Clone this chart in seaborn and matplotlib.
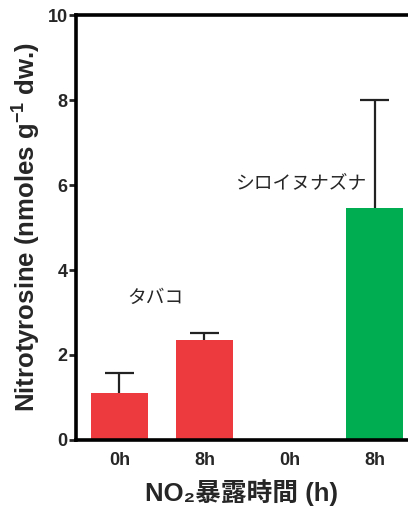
import matplotlib
matplotlib.use("Agg")
import matplotlib.pyplot as plt
import seaborn as sns
import pandas as pd
import numpy as np

# Nitrotyrosine content after NO2 exposure
groups = ["タバコ 0h", "タバコ 8h", "シロイヌナズナ 0h", "シロイヌナズナ 8h"]
time_labels = ["0h", "8h", "0h", "8h"]
means = [1.10, 2.35, 0.0, 5.47]
sem_upper = [0.48, 0.17, 0.0, 2.52]
bar_colors = ["#ED3A3E", "#ED3A3E", "#333333", "#00AD50"]

df = pd.DataFrame({"group": groups, "value": means})

sns.set_style("ticks")
plt.rcParams["font.family"] = ["Liberation Sans", "Noto Sans CJK JP", "DejaVu Sans"]
plt.rcParams["mathtext.fontset"] = "custom"
plt.rcParams["mathtext.rm"] = "Liberation Sans:bold"
plt.rcParams["mathtext.bf"] = "Liberation Sans:bold"
plt.rcParams["mathtext.default"] = "bf"

fig = plt.figure(figsize=(4.08, 5.11), dpi=100)
ax = fig.add_axes([0.186, 0.139, 0.814, 0.8315])

sns.barplot(data=df, x="group", y="value", hue="group", palette=bar_colors,
            order=groups, hue_order=groups, legend=False, errorbar=None,
            width=0.67, saturation=1, ax=ax, linewidth=0)

# zero-height bar drawn as a line on the baseline
for p, c in zip(ax.patches, bar_colors):
    p.set_edgecolor(c)
    p.set_linewidth(1.2 if p.get_height() == 0 else 0)

# upper-only error bars
xpos = np.arange(len(groups))
for x, m, e in zip(xpos, means, sem_upper):
    if e > 0:
        ax.vlines(x, m, m + e, color="#222222", linewidth=1.6, zorder=3)
        ax.hlines(m + e, x - 0.17, x + 0.17, color="#222222", linewidth=1.6, zorder=3)

ax.set_xlim(-0.51, 3.39)
ax.set_ylim(0, 10)
ax.set_yticks([0, 2, 4, 6, 8, 10])
ax.set_xticks(xpos)
ax.set_xticklabels(time_labels, fontsize=13, fontweight="bold")
ax.tick_params(axis="y", labelsize=13, width=2, length=5, pad=1)
ax.tick_params(axis="x", length=0, pad=9)
for lab in ax.get_yticklabels():
    lab.set_fontweight("bold")

for side in ["left", "bottom", "top"]:
    ax.spines[side].set_linewidth(2.6)
    ax.spines[side].set_color("black")
ax.spines["right"].set_visible(False)

ax.set_ylabel("Nitrotyrosine (nmoles g$^{-1}$ dw.)", fontsize=18.5,
              fontweight="bold", labelpad=3)
ax.set_xlabel("NO₂暴露時間 (h)", fontsize=18.5, fontweight="bold", labelpad=7)

ax.text(0.42, 3.35, "タバコ", fontsize=13.5, ha="center", va="center",
        family=["Noto Sans CJK JP"])
ax.text(2.13, 6.05, "シロイヌナズナ", fontsize=13.5, ha="center", va="center",
        family=["Noto Sans CJK JP"])

fig.savefig("out.png", dpi=100)
